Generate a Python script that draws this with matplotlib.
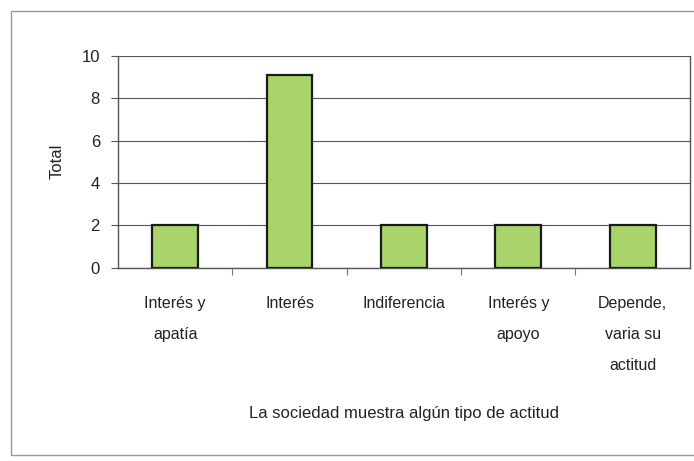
import matplotlib.pyplot as plt
from matplotlib.patches import Rectangle

# categories and counts
categories = ['Interés y\napatía', 'Interés', 'Indiferencia', 'Interés y\napoyo', 'Depende,\nvaria su\nactitud']
totals = [2, 9.1, 2, 2, 2]
y_ticks = [0, 2, 4, 6, 8, 10]

plt.rcParams['font.family'] = ['Liberation Sans Narrow', 'Liberation Sans', 'DejaVu Sans']

fig = plt.figure(figsize=(6.94, 4.61), dpi=100)
ax = fig.add_axes([0.170, 0.419, 0.824, 0.460])

x = list(range(len(categories)))
ax.bar(x, totals, width=0.4, color='#a9d36b', edgecolor='#1a1a1a', linewidth=1.6, zorder=3)

ax.set_xlim(-0.5, len(categories) - 0.5)
ax.set_ylim(0, 10)
ax.set_yticks(y_ticks)
ax.grid(axis='y', color='#555555', linewidth=0.8, zorder=0)

# category ticks sit between the bars, labels centred under them
ax.set_xticks([i + 0.5 for i in x[:-1]])
ax.set_xticklabels([])
ax.tick_params(axis='x', direction='out', length=5, color='#777777')
ax.set_xticks(x, minor=True)
ax.set_xticklabels(categories, minor=True, fontsize=11.5, linespacing=2.35, color='#222222')
ax.tick_params(axis='x', which='minor', length=0, pad=20)
ax.tick_params(axis='y', direction='out', length=5, color='#555555', labelsize=12, labelcolor='#222222', pad=8)

for side in ['left', 'bottom', 'right']:
    ax.spines[side].set_color('#555555')
    ax.spines[side].set_linewidth(1.0)
ax.spines['top'].set_visible(False)

ax.set_ylabel('Total', fontsize=12, labelpad=12, color='#222222')
ax.set_xlabel('La sociedad muestra algún tipo de actitud', fontsize=12, labelpad=24, color='#222222')

# outer chart border from the scan
fig.patches.append(Rectangle((0.016, 0.013), 1.2, 0.963, transform=fig.transFigure,
                             fill=False, edgecolor='#999999', linewidth=1.0))

fig.savefig('out.png', dpi=100)
